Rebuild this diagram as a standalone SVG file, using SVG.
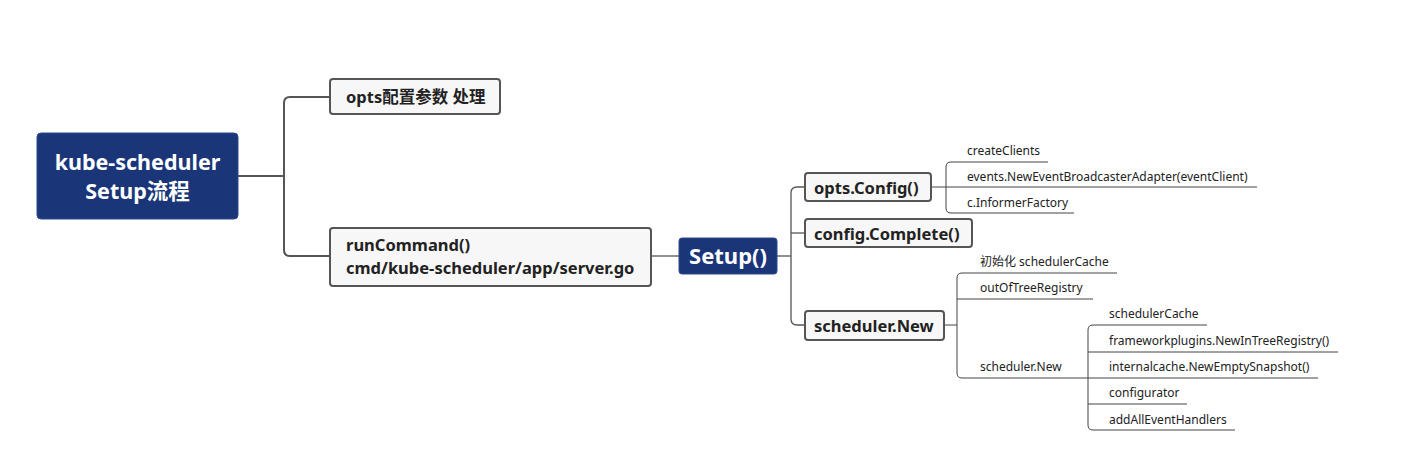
<svg xmlns="http://www.w3.org/2000/svg" width="1423" height="456" viewBox="0 0 1423 456">
<style>
.root{fill:#1a3678;stroke:#2c4a8c;stroke-width:1}
.box{fill:#f7f7f7;stroke:#555;stroke-width:2}
.tw{fill:#fff;font-family:"Noto Sans","Noto Sans CJK SC",sans-serif;font-weight:bold}
.tb{fill:#222;font-family:"Noto Sans","Noto Sans CJK SC",sans-serif;font-weight:bold;font-size:16.5px}
.ts{fill:#222;font-family:"Noto Sans","Noto Sans CJK SC",sans-serif;font-size:12px}
.c1{fill:none;stroke:#555;stroke-width:2}
.c2{fill:none;stroke:#555;stroke-width:1.3}
.c3{fill:none;stroke:#444;stroke-width:1}
</style>
<rect width="1423" height="456" fill="#fff"/>
<g id="connectors">
<path class="c1" d="M238,176 H284"/>
<path class="c1" d="M329,97 H290 Q284,97 284,103 V250 Q284,256 290,256 H329"/>
<path class="c2" d="M651,256 H679"/>
<path class="c2" d="M777,256 H791"/>
<path class="c2" d="M805,187 H797 Q791,187 791,193 V319 Q791,325 797,325 H805"/>
<path class="c2" d="M791,233 H805"/>
<path class="c3" d="M931,187 H1257"/>
<path class="c3" d="M1048,162 H951 Q946,162 946,167 V208 Q946,213 951,213 H1074"/>
<path class="c3" d="M944,325 H957"/>
<path class="c3" d="M1117,273 H962 Q957,273 957,278 V373 Q957,378 962,378 H1318"/>
<path class="c3" d="M957,299 H1093"/>
<path class="c3" d="M1207,325 H1093 Q1088,325 1088,330 V425 Q1088,430 1093,430 H1235"/>
<path class="c3" d="M1088,352 H1338"/>
<path class="c3" d="M1088,404 H1187"/>
</g>
<g id="n-root">
<rect class="root" x="37" y="133" width="201" height="86" rx="4"/>
<text class="tw" font-size="21.5" x="137.5" y="170" text-anchor="middle">kube-scheduler</text>
<text class="tw" font-size="21.5" x="137.5" y="199" text-anchor="middle">Setup流程</text>
</g>
<g id="n-opts">
<rect class="box" x="330" y="79" width="170" height="35" rx="3"/>
<text class="tb" x="346" y="103">opts配置参数 处理</text>
</g>
<g id="n-run">
<rect class="box" x="330" y="228" width="321" height="58" rx="3"/>
<text class="tb" x="346" y="251">runCommand()</text>
<text class="tb" x="346" y="274">cmd/kube-scheduler/app/server.go</text>
</g>
<g id="n-setup">
<rect class="root" x="679" y="238" width="98" height="36" rx="3"/>
<text class="tw" font-size="22" x="728" y="264" text-anchor="middle">Setup()</text>
</g>
<g id="n-config">
<rect class="box" x="805" y="173" width="126" height="28" rx="3"/>
<text class="tb" x="814" y="194">opts.Config()</text>
</g>
<g id="n-complete">
<rect class="box" x="805" y="219" width="167" height="28" rx="3"/>
<text class="tb" x="814" y="240">config.Complete()</text>
</g>
<g id="n-schednew">
<rect class="box" x="805" y="311" width="139" height="29" rx="3"/>
<text class="tb" x="814" y="332">scheduler.New</text>
</g>
<g id="n-createClients"><text class="ts" x="967" y="155">createClients</text></g>
<g id="n-events"><text class="ts" x="967" y="181">events.NewEventBroadcasterAdapter(eventClient)</text></g>
<g id="n-informer"><text class="ts" x="967" y="207">c.InformerFactory</text></g>
<g id="n-init"><text class="ts" x="980" y="266">初始化 schedulerCache</text></g>
<g id="n-outoftree"><text class="ts" x="980" y="292">outOfTreeRegistry</text></g>
<g id="n-schednew2"><text class="ts" x="980" y="371">scheduler.New</text></g>
<g id="n-cache"><text class="ts" x="1109" y="318">schedulerCache</text></g>
<g id="n-framework"><text class="ts" x="1109" y="345">frameworkplugins.NewInTreeRegistry()</text></g>
<g id="n-snapshot"><text class="ts" x="1109" y="371">internalcache.NewEmptySnapshot()</text></g>
<g id="n-configurator"><text class="ts" x="1109" y="397">configurator</text></g>
<g id="n-handlers"><text class="ts" x="1109" y="424">addAllEventHandlers</text></g>
</svg>
